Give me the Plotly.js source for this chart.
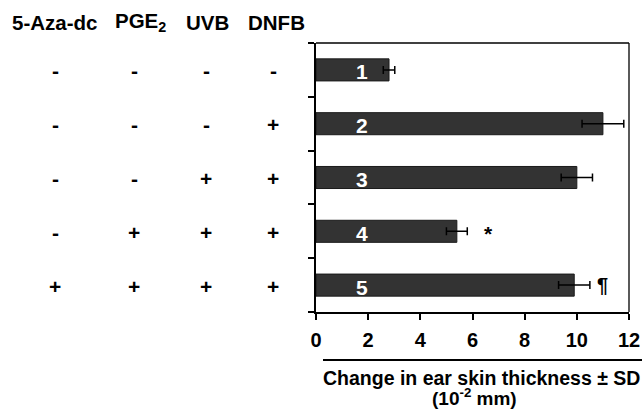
<!DOCTYPE html>
<html>
<head>
<meta charset="utf-8">
<script src="https://cdn.plot.ly/plotly-3.0.1.min.js"></script>
<style>html,body{margin:0;padding:0;background:#fff;}#chart{width:642px;height:410px;}</style>
</head>
<body>
<div id="chart"></div>
<script>
// ---- data ----
const groups = ['1', '2', '3', '4', '5'];
const means = [2.8, 11.0, 10.0, 5.4, 9.9];
const sds = [0.22, 0.8, 0.6, 0.4, 0.6];
const marks = ['', '', '', '*', '¶'];
const headers = ['5-Aza-dc', 'PGE<sub>2</sub>', 'UVB', 'DNFB'];
const azaDc = ['-', '-', '-', '-', '+'];
const pge2 = ['-', '-', '-', '+', '+'];
const uvb = ['-', '-', '+', '+', '+'];
const dnfb = ['-', '+', '+', '+', '+'];
const xTicks = [0, 2, 4, 6, 8, 10, 12];
const xTitle1 = 'Change in ear skin thickness ± SD';
const xTitle2 = '(10<sup>-2</sup> mm)';

// ---- layout helpers ----
const W = 642, H = 410;
const L = 316, R = 13, T = 43, B = 98;
const pw = W - L - R, ph = H - T - B;
const px2x = p => (p - L) / pw;
const py2y = p => (H - B - p) / ph;
const FONT = 'Liberation Sans, Arial, sans-serif';

const rowIdx = groups.map((g, i) => i);

const trace = {
  type: 'bar',
  orientation: 'h',
  x: means,
  y: rowIdx,
  width: 0.41,
  marker: { color: '#333333', line: { color: '#1a1a1a', width: 1 } },
  error_x: { type: 'data', array: sds, visible: true, color: '#000', thickness: 1.5, width: 4 },
  hoverinfo: 'none'
};

const annotations = [];
// numbers inside bars
groups.forEach((g, i) => {
  annotations.push({ x: 1.76, y: i, xref: 'x', yref: 'y', text: g, showarrow: false,
    yshift: -2, font: { family: FONT, size: 21, color: '#fff', weight: 'bold' } });
});
// significance marks
marks.forEach((m, i) => {
  if (!m) return;
  annotations.push({ x: means[i] + sds[i], y: i, xref: 'x', yref: 'y', text: m, showarrow: false,
    xanchor: 'center', xshift: m === '*' ? 21 : 13, yshift: m === '*' ? -2 : 0,
    font: { family: FONT, size: m === '*' ? 21 : 20, color: '#000', weight: 'bold' } });
});
// treatment table
const headerPx = [54, 141, 207, 276];
const colPx = [55, 134, 206, 273];
headers.forEach((h, c) => {
  annotations.push({ x: px2x(headerPx[c]), y: py2y(22), xref: 'paper', yref: 'paper', text: h,
    showarrow: false, xanchor: 'center', yanchor: 'middle',
    font: { family: FONT, size: 20.5, color: '#000', weight: 'bold' } });
});
[azaDc, pge2, uvb, dnfb].forEach((col, c) => {
  col.forEach((s, i) => {
    annotations.push({ x: px2x(colPx[c]), y: i, xref: 'paper', yref: 'y', text: s,
      showarrow: false, xanchor: 'center', yshift: -1,
      font: { family: FONT, size: 21, color: '#000', weight: 'bold' } });
  });
});
// axis title
annotations.push({ x: px2x(481), y: py2y(378), xref: 'paper', yref: 'paper', text: xTitle1,
  showarrow: false, xanchor: 'center', yanchor: 'middle',
  font: { family: FONT, size: 19.5, color: '#000', weight: 'bold' } });
annotations.push({ x: px2x(474), y: py2y(397), xref: 'paper', yref: 'paper', text: xTitle2,
  showarrow: false, xanchor: 'center', yanchor: 'middle',
  font: { family: FONT, size: 19, color: '#000', weight: 'bold' } });

const shapes = [
  { type: 'line', xref: 'paper', yref: 'paper', x0: 0, x1: 1, y0: 1, y1: 1, line: { color: '#000', width: 1.3 } },
  { type: 'line', xref: 'paper', yref: 'paper', x0: 1, x1: 1, y0: 0, y1: 1, line: { color: '#000', width: 1.3 } },
  { type: 'line', xref: 'paper', yref: 'paper', x0: px2x(323), x1: px2x(645), y0: py2y(360), y1: py2y(360), line: { color: '#000', width: 2 } }
];

const layout = {
  width: W, height: H,
  margin: { l: L, r: R, t: T, b: B, pad: 0 },
  paper_bgcolor: '#fff', plot_bgcolor: '#fff',
  showlegend: false,
  font: { family: FONT, color: '#000' },
  xaxis: {
    range: [0, 12], tickvals: xTicks, ticktext: xTicks.map(String),
    showgrid: false, zeroline: false, showline: true, linecolor: '#000', linewidth: 2,
    ticks: 'outside', ticklen: 6, tickwidth: 2, tickcolor: '#000',
    tickfont: { family: FONT, size: 20, color: '#000', weight: 'bold' },
    ticklabelstandoff: 3
  },
  yaxis: {
    range: [4.5, -0.5], tickvals: [-0.5, 0.5, 1.5, 2.5, 3.5, 4.5],
    showticklabels: false, showgrid: false, zeroline: false,
    showline: true, linecolor: '#000', linewidth: 2,
    ticks: 'outside', ticklen: 6, tickwidth: 2, tickcolor: '#000'
  },
  annotations: annotations,
  shapes: shapes
};

Plotly.newPlot('chart', [trace], layout, { displayModeBar: false, staticPlot: true });
</script>
</body>
</html>
